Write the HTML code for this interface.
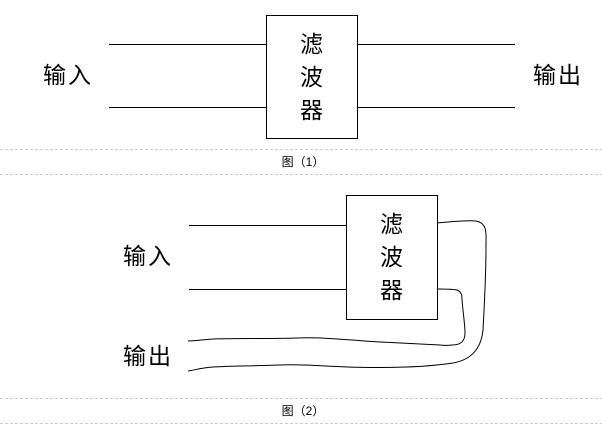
<!DOCTYPE html>
<html><head><meta charset="utf-8"><style>
body{margin:0;background:#fff;width:602px;height:425px;overflow:hidden}
svg text{font-family:"Liberation Sans","Noto Sans CJK SC",sans-serif;fill:#000}
</style></head><body>
<svg width="602" height="425" viewBox="0 0 602 425" xmlns="http://www.w3.org/2000/svg">
<g stroke="#000" stroke-width="1" fill="none">
<rect x="266.5" y="15.5" width="91" height="123"/>
<line x1="109" y1="44.5" x2="266" y2="44.5"/>
<line x1="109" y1="107.5" x2="266" y2="107.5"/>
<line x1="357" y1="44.5" x2="515" y2="44.5"/>
<line x1="357" y1="107.5" x2="515" y2="107.5"/>
<rect x="346.5" y="195.5" width="91" height="124"/>
<line x1="189" y1="225.5" x2="346" y2="225.5"/>
<line x1="189" y1="289.5" x2="346" y2="289.5"/>
<path d="M437,223 C450,222 465,220 476,221 C488,223 486,235 486,245 C486,280 484,310 483,330 C481,350 470,360 453,363 C420,368 380,368 347,367 C320,366 300,364 280,365 C250,366 230,366 213,367 C200,368 195,370 188,371"/>
<path d="M437,289 C445,289 452,289 457,290 C462,292 462,296 462,300 C463,312 465,325 465,333 C465,342 460,345 452,345 C445,346 442,345 440,345 C420,344 400,343 380,342 C350,340 320,337 297,338 C270,339 240,338 213,339 C200,340 195,341 188,341"/>
</g>
<g stroke="#ccc" stroke-width="1" stroke-dasharray="3,2">
<line x1="0" y1="149.5" x2="602" y2="149.5"/>
<line x1="0" y1="174.5" x2="602" y2="174.5"/>
<line x1="0" y1="398.5" x2="602" y2="398.5"/>
<line x1="0" y1="423.5" x2="602" y2="423.5"/>
</g>
<g font-size="23">
<text x="43" y="83" letter-spacing="2">输入</text>
<text x="533" y="83" letter-spacing="2">输出</text>
<text x="300" y="52">滤</text>
<text x="300" y="85">波</text>
<text x="300" y="118">器</text>
<text x="123" y="264" letter-spacing="2">输入</text>
<text x="123" y="364" letter-spacing="2">输出</text>
<text x="380" y="232">滤</text>
<text x="380" y="265">波</text>
<text x="380" y="298">器</text>
</g>
<text x="303" y="166" font-size="12" text-anchor="middle">图（1）</text>
<text x="303" y="415" font-size="12" text-anchor="middle">图（2）</text>
</svg>
</body></html>
